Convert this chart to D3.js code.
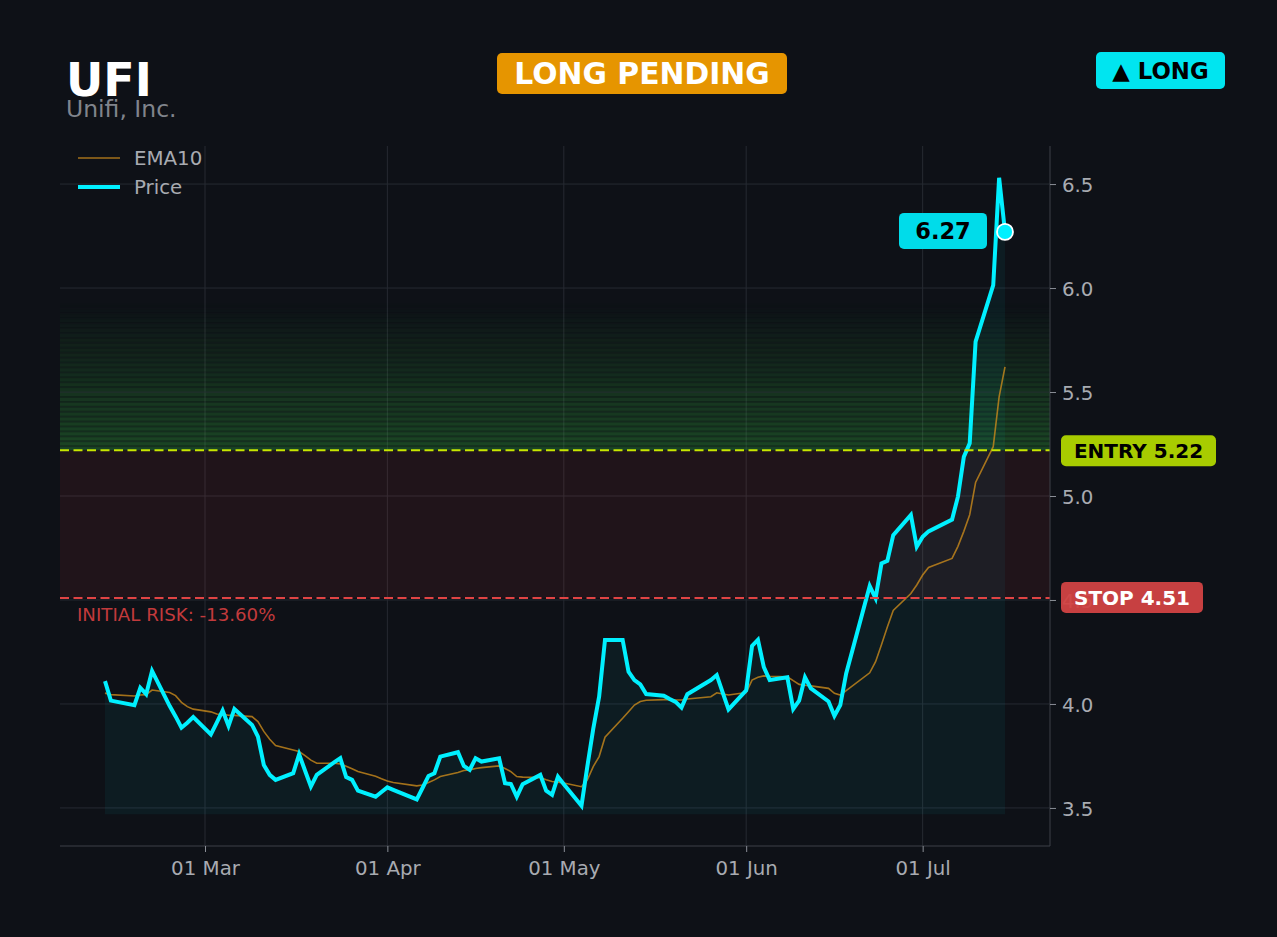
<!DOCTYPE html>
<html>
<head>
<meta charset="utf-8">
<script src="https://cdn.jsdelivr.net/npm/d3@7"></script>
<style>
  html, body { margin: 0; padding: 0; background: #0e1117; }
  svg { display: block; font-family: "DejaVu Sans", sans-serif; }
</style>
</head>
<body>
<div id="chart"></div>
<script>
// ---- data ----
const ticker = "UFI";
const companyName = "Unifi, Inc.";
const statusLabel = "LONG PENDING";
const sideLabel = "\u25B2 LONG";

const dates = [
  "2026-02-12","2026-02-13","2026-02-17","2026-02-18","2026-02-19","2026-02-20",
  "2026-02-23","2026-02-24","2026-02-25","2026-02-26","2026-02-27",
  "2026-03-02","2026-03-03","2026-03-04","2026-03-05","2026-03-06",
  "2026-03-09","2026-03-10","2026-03-11","2026-03-12","2026-03-13",
  "2026-03-16","2026-03-17","2026-03-18","2026-03-19","2026-03-20",
  "2026-03-23","2026-03-24","2026-03-25","2026-03-26","2026-03-27",
  "2026-03-30","2026-03-31","2026-04-01","2026-04-02",
  "2026-04-06","2026-04-07","2026-04-08","2026-04-09","2026-04-10",
  "2026-04-13","2026-04-14","2026-04-15","2026-04-16","2026-04-17",
  "2026-04-20","2026-04-21","2026-04-22","2026-04-23","2026-04-24",
  "2026-04-27","2026-04-28","2026-04-29","2026-04-30","2026-05-01",
  "2026-05-04","2026-05-05","2026-05-06","2026-05-07","2026-05-08",
  "2026-05-11","2026-05-12","2026-05-13","2026-05-14","2026-05-15",
  "2026-05-18","2026-05-19","2026-05-20","2026-05-21","2026-05-22",
  "2026-05-26","2026-05-27","2026-05-28","2026-05-29",
  "2026-06-01","2026-06-02","2026-06-03","2026-06-04","2026-06-05",
  "2026-06-08","2026-06-09","2026-06-10","2026-06-11","2026-06-12",
  "2026-06-15","2026-06-16","2026-06-17","2026-06-18",
  "2026-06-22","2026-06-23","2026-06-24","2026-06-25","2026-06-26",
  "2026-06-29","2026-06-30","2026-07-01","2026-07-02",
  "2026-07-06","2026-07-07","2026-07-08","2026-07-09","2026-07-10",
  "2026-07-13","2026-07-14","2026-07-15"
];

const price = [
  4.11, 4.016, 3.994, 4.078, 4.047, 4.159,
  3.99, 3.94, 3.886, 3.91, 3.937,
  3.854, 3.91, 3.968, 3.894, 3.976,
  3.899, 3.843, 3.707, 3.659, 3.635,
  3.667, 3.758, 3.68, 3.603, 3.659,
  3.72, 3.739, 3.648, 3.635, 3.583,
  3.554, 3.577, 3.599, 3.587,
  3.541, 3.597, 3.654, 3.667, 3.747,
  3.768, 3.702, 3.683, 3.739, 3.723,
  3.739, 3.619, 3.615, 3.554, 3.614,
  3.659, 3.583, 3.563, 3.650, 3.614,
  3.511, 3.70, 3.88, 4.035, 4.308,
  4.308, 4.155, 4.115, 4.094, 4.048,
  4.04, 4.024, 4.01, 3.983, 4.047,
  4.115, 4.139, 4.056, 3.974,
  4.065, 4.279, 4.308, 4.177, 4.115,
  4.128, 3.976, 4.016, 4.128, 4.075,
  4.012, 3.943, 3.995, 4.147,
  4.567, 4.508, 4.676, 4.688, 4.812,
  4.909, 4.756, 4.804, 4.83,
  4.887, 4.997, 5.188, 5.253, 5.742,
  6.014, 6.53, 6.27
];

const ema10 = [
  4.052, 4.045, 4.038, 4.043, 4.045, 4.067,
  4.055, 4.040, 4.008, 3.987, 3.975,
  3.962, 3.952, 3.950, 3.946, 3.945,
  3.939, 3.915, 3.868, 3.83, 3.80,
  3.779, 3.771, 3.752, 3.730, 3.715,
  3.715, 3.712, 3.70, 3.688, 3.675,
  3.652, 3.640, 3.630, 3.622,
  3.606, 3.610, 3.622, 3.635, 3.651,
  3.670, 3.680, 3.683, 3.690, 3.694,
  3.702, 3.690, 3.675, 3.651, 3.648,
  3.646, 3.636, 3.627, 3.624, 3.620,
  3.602, 3.635, 3.699, 3.747, 3.840,
  3.931, 3.963, 3.995, 4.012, 4.018,
  4.021, 4.022, 4.019, 4.019, 4.024,
  4.035, 4.054, 4.048, 4.043,
  4.055, 4.115, 4.128, 4.135, 4.133,
  4.131, 4.112, 4.094, 4.090, 4.087,
  4.075, 4.051, 4.043, 4.064,
  4.15, 4.203, 4.285, 4.37, 4.45,
  4.531, 4.572, 4.62, 4.656,
  4.70, 4.758, 4.83, 4.91, 5.065,
  5.237, 5.477, 5.621
];

const entryPrice = 5.22;
const stopPrice = 4.51;
const targetPrice = 5.93;
const fillBase = 3.47;
const yTicks = [3.5, 4.0, 4.5, 5.0, 5.5, 6.0, 6.5];

// ---- layout ----
const W = 1277, H = 937;
const M = { left: 60, right: 1050, top: 146, bottom: 846 };
const BG = "#0e1117";
const CYAN = "#00f0ff";
const EMA_COLOR = "#c98a1c";
const LABEL = "#a8abb1";

const parse = d3.timeParse("%Y-%m-%d");
const rows = dates.map((d, i) => ({ date: parse(d), price: price[i], ema: ema10[i] }));

const svg = d3.select("#chart").append("svg")
  .attr("width", W).attr("height", H);

svg.append("rect").attr("width", W).attr("height", H).attr("fill", BG);

// scales with 5% padding like the source chart
const tExt = d3.extent(rows, d => d.date);
const tPad = (tExt[1] - tExt[0]) * 0.05;
const x = d3.scaleTime()
  .domain([new Date(+tExt[0] - tPad), new Date(+tExt[1] + tPad)])
  .range([M.left, M.right]);

const vMin = fillBase, vMax = d3.max(price);
const vPad = (vMax - vMin) * 0.05;
const y = d3.scaleLinear()
  .domain([vMin - vPad, vMax + vPad])
  .range([M.bottom, M.top]);

const plotW = M.right - M.left;

// grid
const monthTicks = x.ticks(d3.timeMonth.every(1));
svg.append("g").selectAll("line").data(monthTicks).enter().append("line")
  .attr("x1", d => x(d)).attr("x2", d => x(d))
  .attr("y1", M.top).attr("y2", M.bottom)
  .attr("stroke", "#262a32").attr("stroke-width", 1);
svg.append("g").selectAll("line").data(yTicks).enter().append("line")
  .attr("x1", M.left).attr("x2", M.right)
  .attr("y1", d => y(d)).attr("y2", d => y(d))
  .attr("stroke", "#262a32").attr("stroke-width", 1);

// risk zone (stop -> entry)
svg.append("rect")
  .attr("x", M.left).attr("width", plotW)
  .attr("y", y(entryPrice)).attr("height", y(stopPrice) - y(entryPrice))
  .attr("fill", "#ff3c3c").attr("opacity", 0.08);

// reward zone (entry -> target), striped fade
const nStripes = 30;
const stripes = d3.range(nStripes).map(i => ({
  lo: entryPrice + (targetPrice - entryPrice) * i / nStripes,
  hi: entryPrice + (targetPrice - entryPrice) * (i + 1) / nStripes,
  a: 0.31 * (1 - i / nStripes)
}));
const sg = svg.append("g");
sg.selectAll("rect.base").data(stripes).enter().append("rect")
  .attr("x", M.left).attr("width", plotW)
  .attr("y", d => y(d.hi)).attr("height", d => y(d.lo) - y(d.hi))
  .attr("fill", "#3cc846").attr("opacity", d => d.a * 0.55);
sg.selectAll("rect.hl").data(stripes).enter().append("rect")
  .attr("x", M.left).attr("width", plotW)
  .attr("y", d => y(d.hi) + 1.8).attr("height", d => Math.max(0, y(d.lo) - y(d.hi) - 1.8))
  .attr("fill", "#3cc846").attr("opacity", d => d.a * 0.45);

// area under price
const area = d3.area()
  .x(d => x(d.date)).y0(y(fillBase)).y1(d => y(d.price));
svg.append("path").datum(rows)
  .attr("d", area).attr("fill", CYAN).attr("opacity", 0.05);

// ema + price
svg.append("path").datum(rows)
  .attr("d", d3.line().x(d => x(d.date)).y(d => y(d.ema)))
  .attr("fill", "none").attr("stroke", EMA_COLOR).attr("stroke-opacity", 0.8)
  .attr("stroke-width", 1.6);

svg.append("path").datum(rows)
  .attr("d", d3.line().x(d => x(d.date)).y(d => y(d.price)))
  .attr("fill", "none").attr("stroke", CYAN).attr("stroke-width", 4)
  .attr("stroke-linejoin", "miter").attr("stroke-linecap", "butt");

// entry / stop lines
svg.append("line")
  .attr("x1", M.left).attr("x2", M.right)
  .attr("y1", y(entryPrice)).attr("y2", y(entryPrice))
  .attr("stroke", "#c8e600").attr("stroke-width", 2).attr("stroke-dasharray", "9,4.5");
svg.append("line")
  .attr("x1", M.left).attr("x2", M.right)
  .attr("y1", y(stopPrice)).attr("y2", y(stopPrice))
  .attr("stroke", "#e04444").attr("stroke-width", 2).attr("stroke-dasharray", "9,4.5");

// axes
const yAxis = d3.axisRight(y).tickValues(yTicks).tickFormat(d3.format(".1f")).tickSize(6).tickPadding(6);
const gy = svg.append("g").attr("transform", `translate(${M.right},0)`).call(yAxis);
const xAxis = d3.axisBottom(x).ticks(d3.timeMonth.every(1)).tickFormat(d3.timeFormat("%d %b")).tickSize(6).tickPadding(9);
const gx = svg.append("g").attr("transform", `translate(0,${M.bottom})`).call(xAxis);

[gx, gy].forEach(g => {
  g.select(".domain").attr("stroke", "#3c4048");
  g.selectAll(".tick line").attr("stroke", "#8a8e96");
  g.selectAll(".tick text").attr("fill", LABEL)
    .style("font-size", "19.8px").style("font-family", "DejaVu Sans");
});
gy.selectAll(".tick text").attr("dy", "0.36em");
gx.select(".domain").attr("d", `M${M.left},0H${M.right}`);
gy.select(".domain").attr("d", `M0,${M.top}V${M.bottom}`);

// initial risk text
const riskPct = (stopPrice - entryPrice) / entryPrice * 100;
svg.append("text")
  .attr("x", 77).attr("y", y(stopPrice) + 23)
  .attr("fill", "#c23a3c").style("font-size", "18.2px")
  .text(`INITIAL RISK: ${riskPct.toFixed(2)}%`);

// right-side badges
function badge(x0, yMid, w, h, fill, txt, color, size, opacity) {
  const g = svg.append("g");
  g.append("rect").attr("x", x0).attr("y", yMid - h / 2).attr("width", w).attr("height", h)
    .attr("rx", 5).attr("fill", fill).attr("opacity", opacity == null ? 1 : opacity);
  g.append("text").attr("x", x0 + w / 2).attr("y", yMid).attr("dy", "0.36em")
    .attr("text-anchor", "middle").attr("fill", color)
    .style("font-size", size + "px").style("font-weight", "bold").text(txt);
  return g;
}
badge(1061, y(entryPrice) + 0.5, 155, 31, "#a8cc00", `ENTRY ${entryPrice.toFixed(2)}`, "#000", 20);
badge(1061, y(stopPrice) - 0.5, 142, 31, "#d24343", `STOP ${stopPrice.toFixed(2)}`, "#fff", 20, 0.95);

// last price marker + label
const last = rows[rows.length - 1];
badge(x(last.date) - 106, y(last.price) - 1, 88, 36, "#00dcea", last.price.toFixed(2), "#000", 22.5);
svg.append("circle")
  .attr("cx", x(last.date)).attr("cy", y(last.price)).attr("r", 8)
  .attr("fill", CYAN).attr("stroke", "#fff").attr("stroke-width", 1.8);

// legend
const lg = svg.append("g");
lg.append("line").attr("x1", 78).attr("x2", 120).attr("y1", 158).attr("y2", 158)
  .attr("stroke", EMA_COLOR).attr("stroke-opacity", 0.8).attr("stroke-width", 1.6);
lg.append("text").attr("x", 134).attr("y", 158).attr("dy", "0.36em")
  .attr("fill", LABEL).style("font-size", "19.8px").text("EMA10");
lg.append("line").attr("x1", 78).attr("x2", 120).attr("y1", 187).attr("y2", 187)
  .attr("stroke", CYAN).attr("stroke-width", 4);
lg.append("text").attr("x", 134).attr("y", 187).attr("dy", "0.36em")
  .attr("fill", LABEL).style("font-size", "19.8px").text("Price");

// header
svg.append("text").attr("x", 66).attr("y", 96)
  .attr("fill", "#ffffff").style("font-size", "46px").style("font-weight", "bold").text(ticker);
svg.append("text").attr("x", 66).attr("y", 117)
  .attr("fill", "#80848c").style("font-size", "23.5px").text(companyName);

badge(497, 73.5, 290, 41, "#e69500", statusLabel, "#fff", 29.8);
badge(1096, 70.5, 129, 37, "#00e5f0", sideLabel, "#000", 22.8);
</script>
</body>
</html>
